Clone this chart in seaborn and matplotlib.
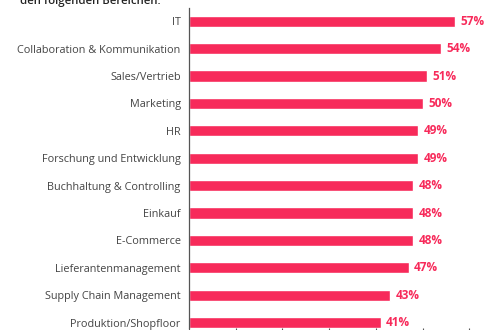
import matplotlib
matplotlib.use("Agg")
import matplotlib.pyplot as plt
import seaborn as sns
import pandas as pd

categories = [
    "IT",
    "Collaboration & Kommunikation",
    "Sales/Vertrieb",
    "Marketing",
    "HR",
    "Forschung und Entwicklung",
    "Buchhaltung & Controlling",
    "Einkauf",
    "E-Commerce",
    "Lieferantenmanagement",
    "Supply Chain Management",
    "Produktion/Shopfloor",
]
values = [57, 54, 51, 50, 49, 49, 48, 48, 48, 47, 43, 41]
value_labels = [f"{v}%" for v in values]

sns.set_theme(style="white")
plt.rcParams["font.family"] = ["Open Sans", "DejaVu Sans"]

bar_color = "#f72a5a"

df = pd.DataFrame({"Bereich": categories, "Anteil": values})

fig = plt.figure(figsize=(5.0, 3.3), dpi=100)
ax = fig.add_axes([0.378, 0.006, 0.598, 0.970])

sns.barplot(data=df, x="Anteil", y="Bereich", color=bar_color, width=0.41,
            saturation=1, ax=ax)

ax.set_xlim(0, 64)
ax.set_ylim(11.2, -0.49)
ax.set_xlabel("")
ax.set_ylabel("")
ax.set_xticks(range(0, 70, 10))
ax.set_xticklabels([])
ax.tick_params(axis="x", direction="out", length=5, width=0.8, color="#555555", bottom=True)
ax.tick_params(axis="y", length=0, pad=6, labelsize=7.8, labelcolor="#444444")

for side in ["top", "right", "bottom"]:
    ax.spines[side].set_visible(False)
ax.spines["left"].set_color("#555555")
ax.spines["left"].set_linewidth(0.9)

for i, (v, lab) in enumerate(zip(values, value_labels)):
    ax.annotate(lab, xy=(v, i), xytext=(4, 0), textcoords="offset points",
                va="center", ha="left", fontsize=8.5, fontweight="bold",
                color=bar_color)

fig.text(0.04, 0.995, "den folgenden Bereichen:", ha="left", va="center",
         fontsize=8.2, fontweight="semibold", color="#222222")

fig.savefig("out.png", dpi=100)
